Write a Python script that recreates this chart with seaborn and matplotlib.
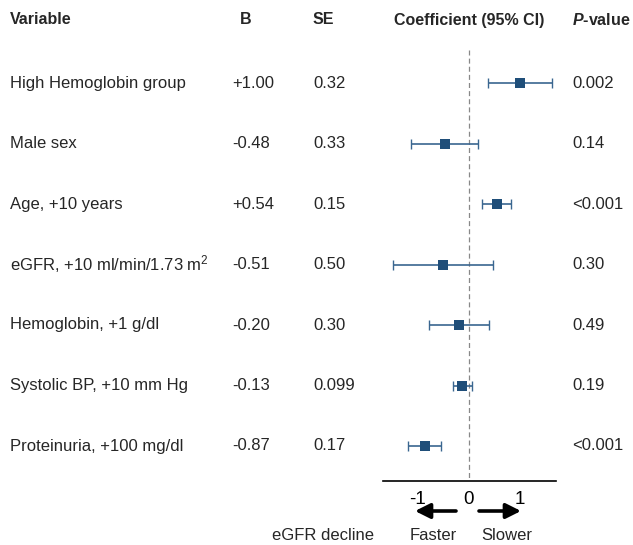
import matplotlib
matplotlib.use("Agg")
import matplotlib.pyplot as plt
import matplotlib.transforms as mtransforms
import seaborn as sns
import pandas as pd

variables = ["High Hemoglobin group", "Male sex", "Age, +10 years",
             "eGFR, +10 ml/min/1.73 m$^2$", "Hemoglobin, +1 g/dl",
             "Systolic BP, +10 mm Hg", "Proteinuria, +100 mg/dl"]
b_text = ["+1.00", "-0.48", "+0.54", "-0.51", "-0.20", "-0.13", "-0.87"]
se_text = ["0.32", "0.33", "0.15", "0.50", "0.30", "0.099", "0.17"]
p_text = ["0.002", "0.14", "<0.001", "0.30", "0.49", "0.19", "<0.001"]
coef = [1.00, -0.48, 0.54, -0.51, -0.20, -0.13, -0.87]
ci_low = [0.37, -1.13, 0.25, -1.49, -0.79, -0.32, -1.20]
ci_high = [1.63, 0.17, 0.83, 0.47, 0.39, 0.06, -0.54]
xticks = [-1, 0, 1]

sns.set_style("white")
plt.rcParams["font.family"] = ["Liberation Sans", "DejaVu Sans"]
plt.rcParams["mathtext.fontset"] = "custom"
plt.rcParams["mathtext.rm"] = "Liberation Sans"
plt.rcParams["mathtext.it"] = "Liberation Sans:italic"
plt.rcParams["mathtext.bf"] = "Liberation Sans:bold"
plt.rcParams["mathtext.bfit"] = "Liberation Sans:italic:bold"
plt.rcParams["mathtext.default"] = "regular"

W, H = 633, 545
fig = plt.figure(figsize=(W / 100, H / 100), dpi=100)
ax = fig.add_axes([383 / W, 1 - 481 / H, (556 - 383) / W, 481 / H])

df = pd.DataFrame({"var": variables, "coef": coef, "lo": ci_low, "hi": ci_high,
                   "row": list(range(len(variables)))})

line_col = "#3a6690"
mark_col = "#1f4e79"
for _, r in df.iterrows():
    ax.errorbar([r["coef"]], [r["row"]],
                xerr=[[r["coef"] - r["lo"]], [r["hi"] - r["coef"]]],
                fmt="none", ecolor=line_col, elinewidth=1.2, capsize=3.5, capthick=1.0)
sns.scatterplot(data=df, x="coef", y="row", marker="s", s=48, color=mark_col,
                edgecolor=mark_col, linewidth=0, ax=ax, zorder=3, legend=False)

y_top = -83 / 60.5
y_bot = (481 - 83) / 60.5
ax.set_ylim(y_bot, y_top)
ax.set_xlim((383 - 469) / 51, (556 - 469) / 51)
ax.plot([0, 0], [-(83 - 50) / 60.5, y_bot], ls=(0, (4, 2.5)), color="#888888", lw=0.9, zorder=1)

for s in ["top", "right", "left"]:
    ax.spines[s].set_visible(False)
ax.spines["bottom"].set_linewidth(1.2)
ax.spines["bottom"].set_color("black")
ax.set_yticks([])
ax.set_xticks(xticks)
ax.set_xticklabels([str(t) for t in xticks])
ax.tick_params(axis="x", length=3, width=1, direction="out", labelsize=13.5, pad=4, colors="black")
ax.set_xlabel("")
ax.set_ylabel("")
ax.patch.set_alpha(0)

tr = mtransforms.blended_transform_factory(fig.transFigure, ax.transData)
fs = 12
hfs = 11.5
hdr_y = (20 - 83) / 60.5
fig.text(10 / W, hdr_y, "Variable", transform=tr, fontsize=hfs, fontweight="bold", va="center")
fig.text(240 / W, hdr_y, "B", transform=tr, fontsize=hfs, fontweight="bold", va="center")
fig.text(313 / W, hdr_y, "SE", transform=tr, fontsize=hfs, fontweight="bold", va="center")
fig.text(469 / W, hdr_y, "Coefficient (95% CI)", transform=tr, fontsize=hfs,
         fontweight="bold", va="center", ha="center")
fig.text(572 / W, hdr_y, r"$\mathbfit{P}$-value", transform=tr, fontsize=hfs,
         fontweight="bold", va="center")

for i in range(len(variables)):
    fig.text(10 / W, i, variables[i], transform=tr, fontsize=fs, va="center")
    fig.text(232 / W, i, b_text[i], transform=tr, fontsize=fs, va="center")
    fig.text(313 / W, i, se_text[i], transform=tr, fontsize=fs, va="center")
    fig.text(572 / W, i, p_text[i], transform=tr, fontsize=fs, va="center")

fig.text(272 / W, 1 - 536 / H, "eGFR decline", fontsize=fs, va="center")
fig.text(433 / W, 1 - 536 / H, "Faster", fontsize=fs, va="center", ha="center")
fig.text(507 / W, 1 - 536 / H, "Slower", fontsize=fs, va="center", ha="center")

ay = 1 - 511 / H
arrow = dict(arrowstyle="-|>,head_length=0.9,head_width=0.45", lw=2.6, color="black",
             mutation_scale=10, shrinkA=0, shrinkB=0)
ax.annotate("", xy=((415 - 469) / 51, ay), xytext=((456 - 469) / 51, ay),
            xycoords=("data", "figure fraction"), textcoords=("data", "figure fraction"),
            arrowprops=arrow, annotation_clip=False)
ax.annotate("", xy=((521 - 469) / 51, ay), xytext=((479 - 469) / 51, ay),
            xycoords=("data", "figure fraction"), textcoords=("data", "figure fraction"),
            arrowprops=arrow, annotation_clip=False)

fig.savefig("out.png", dpi=100)
